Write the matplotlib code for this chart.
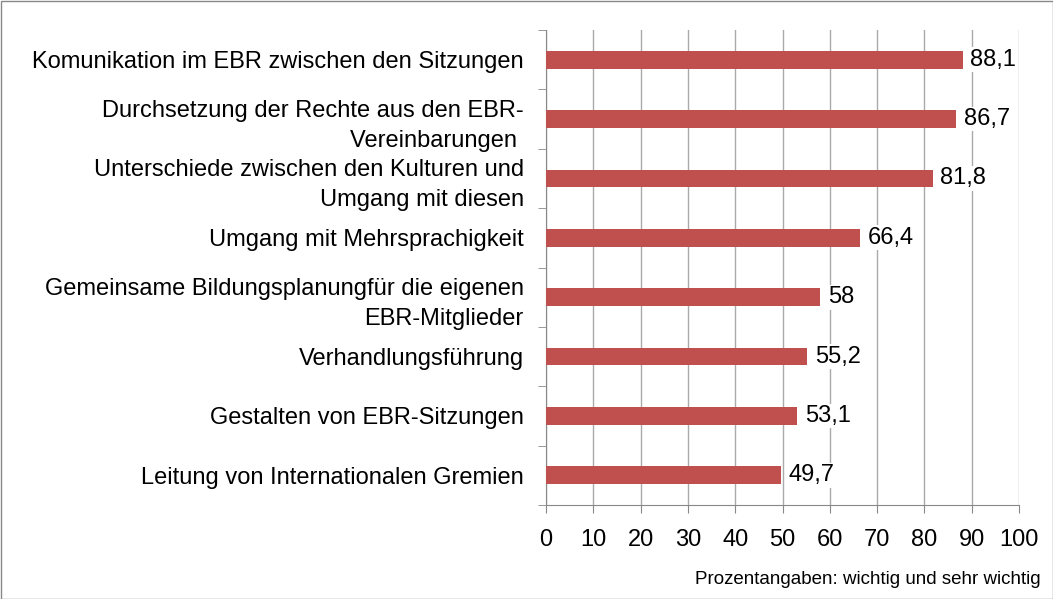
import matplotlib
matplotlib.use("Agg")
import matplotlib.pyplot as plt

categories = [
    "Komunikation im EBR zwischen den Sitzungen",
    "Durchsetzung der Rechte aus den EBR-\nVereinbarungen ",
    "Unterschiede zwischen den Kulturen und\nUmgang mit diesen",
    "Umgang mit Mehrsprachigkeit",
    "Gemeinsame Bildungsplanungfür die eigenen\nEBR-Mitglieder",
    "Verhandlungsführung",
    "Gestalten von EBR-Sitzungen",
    "Leitung von Internationalen Gremien",
]
values = [88.1, 86.7, 81.8, 66.4, 58, 55.2, 53.1, 49.7]
value_labels = ["88,1", "86,7", "81,8", "66,4", "58", "55,2", "53,1", "49,7"]
xticks = [0, 10, 20, 30, 40, 50, 60, 70, 80, 90, 100]
footnote = "Prozentangaben: wichtig und sehr wichtig"

plt.rcParams['font.family'] = ['Liberation Sans', 'DejaVu Sans']

fig = plt.figure(figsize=(10.53, 5.99), dpi=100)
ax = fig.add_axes([546/1053, 1 - 505/599, (1019-546)/1053, (505-30)/599])

n = len(categories)
ypos = list(range(n))[::-1]
ax.barh(ypos, values, height=0.3, color="#C0504D", zorder=3)
ax.set_ylim(-0.5, n - 0.5)
ax.set_xlim(0, 100)
ax.set_xticks(xticks)
ax.set_xticklabels([str(t) for t in xticks], fontsize=17)
ax.set_yticks(ypos)
ax.set_yticklabels(categories, fontsize=17, ha="right", multialignment="right",
                   linespacing=1.5)
ax.tick_params(axis="y", length=0, pad=16)
ax.set_yticks([i - 0.5 for i in range(n + 1)], minor=True)
ax.tick_params(axis="y", which="minor", length=6, color="#888888", direction="out")
ax.tick_params(axis="x", length=6, color="#888888", direction="out", pad=11)
ax.grid(axis="x", color="#AAAAAA", linewidth=1, zorder=0)
for s in ["top", "right"]:
    ax.spines[s].set_visible(False)
for s in ["left", "bottom"]:
    ax.spines[s].set_color("#888888")

for y, v, lab in zip(ypos, values, value_labels):
    ax.text(v + 1.6, y, lab, va="center", ha="left", fontsize=17, zorder=4,
            bbox=dict(facecolor="white", edgecolor="none", pad=1))

fig.text(1041/1053, 1 - 580/599, footnote, ha="right", va="center", fontsize=13.5)

border = plt.Rectangle((0.5/1053, 0.5/599), 1 - 1/1053, 1 - 1/599, transform=fig.transFigure,
                       fill=False, edgecolor="#888888", linewidth=1)
fig.patches.append(border)

fig.savefig("out.png", dpi=100)
